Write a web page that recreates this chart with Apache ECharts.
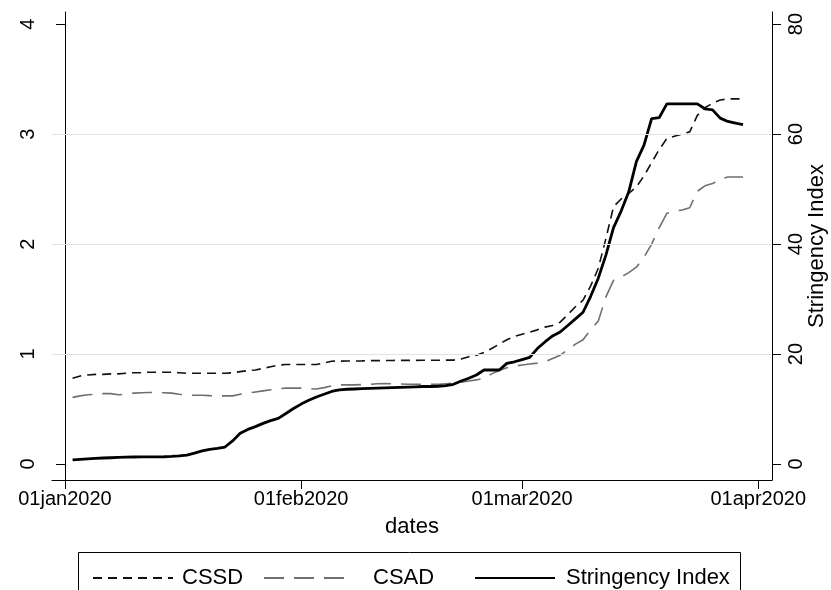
<!DOCTYPE html>
<html>
<head>
<meta charset="utf-8">
<script src="https://cdn.jsdelivr.net/npm/echarts@6/dist/echarts.min.js"></script>
<style>
html,body{margin:0;padding:0;background:#fff;}
#chart{width:831px;height:590px;}
</style>
</head>
<body>
<div id="chart"></div>
<script>
var dates = [
'2020-01-02','2020-01-03','2020-01-04','2020-01-05','2020-01-06','2020-01-07','2020-01-08','2020-01-09','2020-01-10','2020-01-11',
'2020-01-12','2020-01-13','2020-01-14','2020-01-15','2020-01-16','2020-01-17','2020-01-18','2020-01-19','2020-01-20','2020-01-21',
'2020-01-22','2020-01-23','2020-01-24','2020-01-25','2020-01-26','2020-01-27','2020-01-28','2020-01-29','2020-01-30','2020-01-31',
'2020-02-01','2020-02-02','2020-02-03','2020-02-04','2020-02-05','2020-02-06','2020-02-07','2020-02-08','2020-02-09','2020-02-10',
'2020-02-11','2020-02-12','2020-02-13','2020-02-14','2020-02-15','2020-02-16','2020-02-17','2020-02-18','2020-02-19','2020-02-20',
'2020-02-21','2020-02-22','2020-02-23','2020-02-24','2020-02-25','2020-02-26','2020-02-27','2020-02-28','2020-02-29','2020-03-01',
'2020-03-02','2020-03-03','2020-03-04','2020-03-05','2020-03-06','2020-03-07','2020-03-08','2020-03-09','2020-03-10','2020-03-11',
'2020-03-12','2020-03-13','2020-03-14','2020-03-15','2020-03-16','2020-03-17','2020-03-18','2020-03-19','2020-03-20','2020-03-21',
'2020-03-22','2020-03-23','2020-03-24','2020-03-25','2020-03-26','2020-03-27','2020-03-28','2020-03-29','2020-03-30'
];
var cssd = [
0.78,0.80,0.81,0.815,0.815,0.82,0.82,0.825,0.83,0.83,
0.835,0.835,0.835,0.835,0.83,0.825,0.825,0.825,0.825,0.825,
0.825,0.83,0.84,0.85,0.855,0.87,0.885,0.90,0.905,0.905,
0.905,0.905,0.905,0.92,0.935,0.936,0.937,0.937,0.938,0.94,
0.94,0.942,0.942,0.943,0.943,0.943,0.944,0.944,0.944,0.945,
0.945,0.955,0.975,0.99,1.015,1.05,1.09,1.13,1.16,1.18,
1.20,1.22,1.245,1.26,1.29,1.36,1.43,1.49,1.62,1.78,
2.05,2.34,2.41,2.46,2.52,2.62,2.74,2.86,2.96,2.98,
3.0,3.02,3.17,3.24,3.28,3.31,3.32,3.32,3.32
];
var csad = [
0.606,0.62,0.63,0.635,0.64,0.64,0.63,0.635,0.645,0.648,
0.65,0.65,0.648,0.645,0.635,0.628,0.625,0.625,0.622,0.62,
0.62,0.62,0.635,0.645,0.655,0.665,0.675,0.685,0.69,0.69,
0.69,0.685,0.683,0.695,0.71,0.72,0.72,0.72,0.722,0.725,
0.73,0.732,0.73,0.728,0.725,0.725,0.725,0.725,0.725,0.73,
0.735,0.745,0.755,0.765,0.78,0.82,0.85,0.875,0.89,0.90,
0.91,0.918,0.93,0.96,0.99,1.04,1.09,1.13,1.22,1.30,
1.52,1.67,1.70,1.74,1.79,1.88,2.0,2.15,2.28,2.30,
2.31,2.33,2.48,2.53,2.55,2.59,2.61,2.61,2.61
];
var stringency = [
0.75,0.85,0.95,1.05,1.1,1.15,1.2,1.25,1.28,1.3,
1.3,1.3,1.33,1.4,1.5,1.64,2.0,2.4,2.67,2.85,
3.1,4.2,5.6,6.3,6.8,7.4,7.9,8.3,9.2,10.1,
10.9,11.6,12.2,12.7,13.2,13.5,13.6,13.65,13.7,13.75,
13.8,13.85,13.9,13.95,14.0,14.05,14.1,14.1,14.15,14.25,
14.5,15.1,15.6,16.2,17.1,17.1,17.1,18.3,18.6,19.0,
19.4,21.0,22.2,23.3,24.0,25.2,26.4,27.6,30.5,33.8,
38.0,43.0,46.0,49.5,55.0,58.0,62.8,63.0,65.5,65.5,
65.5,65.5,65.5,64.6,64.4,62.9,62.3,62.0,61.7
];
var xTickDates = ['2020-01-01','2020-02-01','2020-03-01','2020-04-01'];
var xTickLabels = ['01jan2020','01feb2020','01mar2020','01apr2020'];
var leftTicks = [0,1,2,3,4];
var rightTicks = [0,20,40,60,80];
var gridLevels = [1,2,3];

function dayOf(s){
  var p = s.split('-');
  return (Date.UTC(+p[0], +p[1]-1, +p[2]) - Date.UTC(2020,0,1)) / 86400000;
}
var xTickVals = xTickDates.map(dayOf);
function pairs(vals){ return dates.map(function(d,i){ return [dayOf(d), vals[i]]; }); }

var FONT = '"Liberation Sans", Arial, Helvetica, sans-serif';
var legendCommon = {
  itemWidth:80, itemHeight:14, top:562,
  itemStyle:{color:'rgba(0,0,0,0)', borderWidth:0, opacity:0}
};
function mkLegend(name, left, pad){
  return Object.assign({}, legendCommon, {
    data:[name], left:left,
    textStyle:{fontSize:22, color:'#000', fontFamily:FONT, padding:[0,0,0,pad]}
  });
}
var chart = echarts.init(document.getElementById('chart'), null, {renderer:'canvas'});
chart.setOption({
  animation:false,
  backgroundColor:'#fff',
  textStyle:{fontFamily:FONT, color:'#000'},
  grid:{left:52, right:59, top:12, bottom:110, containLabel:false, outerBoundsMode:'none'},
  xAxis:{
    type:'value', min:-1.7, max:92.8,
    name:'dates', nameLocation:'middle', nameGap:36, nameMoveOverlap:false,
    nameTextStyle:{fontSize:22, color:'#000', fontFamily:FONT},
    axisLine:{show:true, onZero:false, lineStyle:{color:'#000', width:1}},
    axisTick:{show:true, length:9, inside:false, customValues:xTickVals, lineStyle:{color:'#000'}},
    axisLabel:{show:true, customValues:xTickVals, margin:9, fontSize:20, color:'#000', fontFamily:FONT,
      formatter:function(v){ var i = xTickVals.indexOf(v); return i>=0 ? xTickLabels[i] : ''; }},
    splitLine:{show:false}
  },
  yAxis:[{
    type:'value', min:-0.145, max:4.11, position:'left',
    axisLine:{show:true, lineStyle:{color:'#000', width:1}},
    axisTick:{show:true, length:9, customValues:leftTicks, lineStyle:{color:'#000'}},
    axisLabel:{show:true, customValues:leftTicks, rotate:90, margin:14, fontSize:20, color:'#000', fontFamily:FONT},
    splitLine:{show:false}
  },{
    type:'value', min:-2.9, max:82.2, position:'right',
    name:'Stringency Index', nameLocation:'middle', nameGap:34, nameRotate:90, nameMoveOverlap:false,
    nameTextStyle:{fontSize:22, color:'#000', fontFamily:FONT},
    axisLine:{show:true, lineStyle:{color:'#000', width:1}},
    axisTick:{show:true, length:9, customValues:rightTicks, lineStyle:{color:'#000'}},
    axisLabel:{show:true, customValues:rightTicks, rotate:90, margin:14, fontSize:20, color:'#000', fontFamily:FONT},
    splitLine:{show:false}
  }],
  legend:[
    mkLegend('CSSD', 87, 4),
    mkLegend('CSAD', 258, 24),
    mkLegend('Stringency Index', 469, 6)
  ],
  graphic:[{
    type:'rect', shape:{x:78.5, y:552.5, width:662, height:60},
    style:{fill:'none', stroke:'#000', lineWidth:1}, silent:true
  }],
  series:[
    {name:'grid', type:'line', data:[], z:0, silent:true, yAxisIndex:0,
     markLine:{silent:true, symbol:'none', label:{show:false}, animation:false,
       lineStyle:{color:'#d9e5eb', width:1.2, type:'solid'},
       emphasis:{disabled:true},
       data: gridLevels.map(function(v){ return {yAxis:v}; })}},
    {name:'CSSD', type:'line', yAxisIndex:0, data:pairs(cssd), symbol:'none', z:3,
     lineStyle:{color:'#111', width:1.6, type:[9,6]}, itemStyle:{color:'#111'}},
    {name:'CSAD', type:'line', yAxisIndex:0, data:pairs(csad), symbol:'none', z:3,
     lineStyle:{color:'#6f6f6f', width:1.6, type:[20,10]}, itemStyle:{color:'#6f6f6f'}},
    {name:'Stringency Index', type:'line', yAxisIndex:1, data:pairs(stringency), symbol:'none', z:4,
     lineStyle:{color:'#000', width:2.8, type:'solid'}, itemStyle:{color:'#000'}}
  ]
});
</script>
</body>
</html>
